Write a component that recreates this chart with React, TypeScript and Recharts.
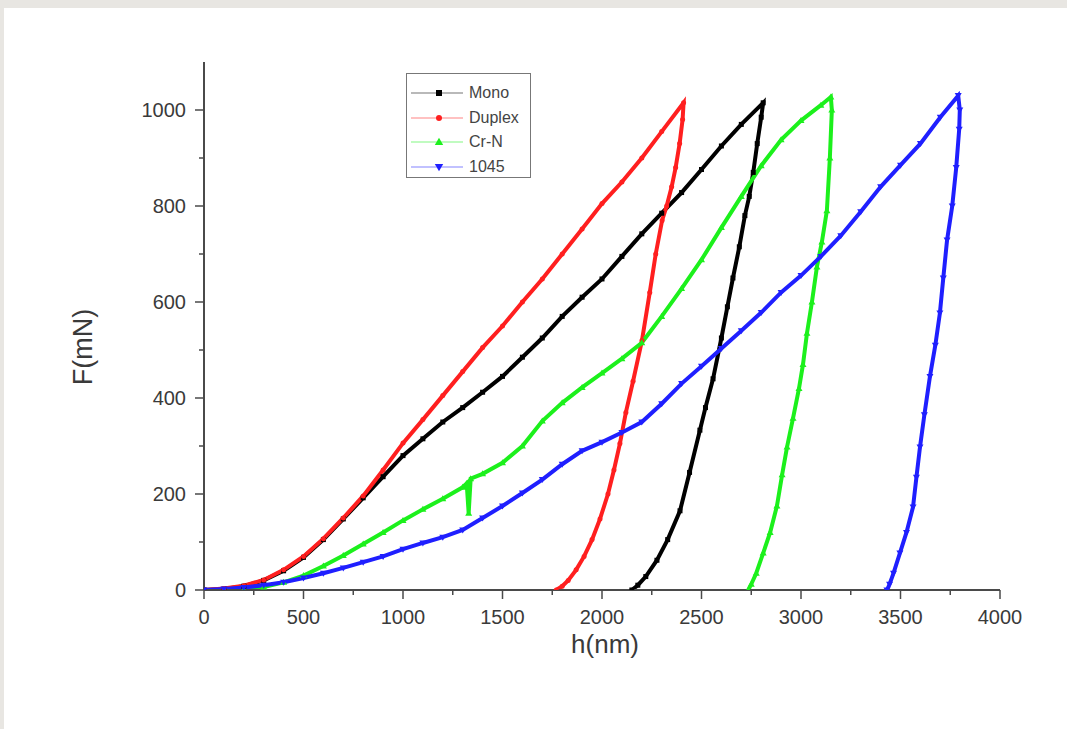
import React from 'react';
import { LineChart, Line, XAxis, YAxis } from 'recharts';

type P = { h: number; f: number };

const monoData: P[] = [
  { h: 0, f: 0 }, { h: 100, f: 2 }, { h: 200, f: 8 }, { h: 300, f: 20 }, { h: 400, f: 40 },
  { h: 500, f: 68 }, { h: 600, f: 105 }, { h: 700, f: 148 }, { h: 800, f: 192 }, { h: 900, f: 236 },
  { h: 1000, f: 280 }, { h: 1100, f: 315 }, { h: 1200, f: 350 }, { h: 1300, f: 380 }, { h: 1400, f: 412 },
  { h: 1500, f: 445 }, { h: 1600, f: 485 }, { h: 1700, f: 525 }, { h: 1800, f: 570 }, { h: 1900, f: 610 },
  { h: 2000, f: 648 }, { h: 2100, f: 695 }, { h: 2200, f: 742 }, { h: 2300, f: 785 }, { h: 2400, f: 828 },
  { h: 2500, f: 876 }, { h: 2600, f: 925 }, { h: 2700, f: 970 }, { h: 2810, f: 1015 },
  { h: 2800, f: 985 }, { h: 2780, f: 930 }, { h: 2760, f: 870 }, { h: 2740, f: 820 }, { h: 2718, f: 780 },
  { h: 2690, f: 715 }, { h: 2658, f: 650 }, { h: 2630, f: 590 }, { h: 2600, f: 525 }, { h: 2558, f: 440 },
  { h: 2520, f: 380 }, { h: 2492, f: 333 }, { h: 2440, f: 245 }, { h: 2392, f: 165 }, { h: 2330, f: 105 },
  { h: 2276, f: 62 }, { h: 2220, f: 28 }, { h: 2180, f: 10 }, { h: 2150, f: 0 },
];

const duplexData: P[] = [
  { h: 0, f: 0 }, { h: 100, f: 3 }, { h: 200, f: 9 }, { h: 300, f: 21 }, { h: 400, f: 42 },
  { h: 500, f: 70 }, { h: 600, f: 107 }, { h: 700, f: 150 }, { h: 800, f: 196 }, { h: 900, f: 250 },
  { h: 1000, f: 306 }, { h: 1100, f: 355 }, { h: 1200, f: 405 }, { h: 1300, f: 455 }, { h: 1400, f: 505 },
  { h: 1500, f: 550 }, { h: 1600, f: 600 }, { h: 1700, f: 648 }, { h: 1800, f: 700 }, { h: 1900, f: 752 },
  { h: 2000, f: 805 }, { h: 2100, f: 850 }, { h: 2200, f: 900 }, { h: 2300, f: 955 }, { h: 2410, f: 1015 },
  { h: 2405, f: 980 }, { h: 2390, f: 930 }, { h: 2370, f: 880 }, { h: 2350, f: 840 }, { h: 2325, f: 800 },
  { h: 2302, f: 770 }, { h: 2270, f: 700 }, { h: 2240, f: 620 }, { h: 2201, f: 520 }, { h: 2156, f: 435 },
  { h: 2120, f: 370 }, { h: 2090, f: 305 }, { h: 2060, f: 250 }, { h: 2030, f: 200 }, { h: 1990, f: 148 },
  { h: 1950, f: 105 }, { h: 1910, f: 70 }, { h: 1870, f: 42 }, { h: 1830, f: 20 }, { h: 1800, f: 8 },
  { h: 1770, f: 0 },
];

const crnData: P[] = [
  { h: 200, f: 0 }, { h: 300, f: 6 }, { h: 400, f: 16 }, { h: 500, f: 30 }, { h: 600, f: 50 },
  { h: 700, f: 72 }, { h: 800, f: 96 }, { h: 900, f: 120 }, { h: 1000, f: 145 }, { h: 1100, f: 168 },
  { h: 1200, f: 190 }, { h: 1300, f: 214 }, { h: 1320, f: 222 }, { h: 1330, f: 160 }, { h: 1340, f: 232 },
  { h: 1400, f: 242 }, { h: 1500, f: 265 }, { h: 1600, f: 300 }, { h: 1700, f: 352 }, { h: 1800, f: 390 },
  { h: 1900, f: 422 }, { h: 2000, f: 452 }, { h: 2100, f: 482 }, { h: 2200, f: 515 }, { h: 2300, f: 570 },
  { h: 2400, f: 628 }, { h: 2500, f: 688 }, { h: 2600, f: 755 }, { h: 2700, f: 820 }, { h: 2800, f: 884 },
  { h: 2900, f: 938 }, { h: 3000, f: 978 }, { h: 3100, f: 1010 }, { h: 3150, f: 1027 },
  { h: 3155, f: 1000 }, { h: 3145, f: 900 }, { h: 3130, f: 790 }, { h: 3105, f: 725 }, { h: 3080, f: 673 },
  { h: 3055, f: 600 }, { h: 3030, f: 535 }, { h: 3010, f: 470 }, { h: 2990, f: 420 }, { h: 2960, f: 358 },
  { h: 2930, f: 298 }, { h: 2905, f: 240 }, { h: 2879, f: 175 }, { h: 2845, f: 120 }, { h: 2810, f: 77 },
  { h: 2775, f: 35 }, { h: 2750, f: 12 }, { h: 2735, f: 0 },
];

const s1045Data: P[] = [
  { h: 0, f: 0 }, { h: 100, f: 2 }, { h: 200, f: 5 }, { h: 300, f: 10 }, { h: 400, f: 16 },
  { h: 500, f: 25 }, { h: 600, f: 35 }, { h: 700, f: 46 }, { h: 800, f: 58 }, { h: 900, f: 70 },
  { h: 1000, f: 85 }, { h: 1100, f: 98 }, { h: 1200, f: 110 }, { h: 1300, f: 125 }, { h: 1400, f: 150 },
  { h: 1500, f: 175 }, { h: 1600, f: 202 }, { h: 1700, f: 230 }, { h: 1800, f: 262 }, { h: 1900, f: 290 },
  { h: 2000, f: 308 }, { h: 2100, f: 328 }, { h: 2200, f: 350 }, { h: 2300, f: 388 }, { h: 2400, f: 430 },
  { h: 2500, f: 466 }, { h: 2600, f: 503 }, { h: 2700, f: 540 }, { h: 2800, f: 578 }, { h: 2900, f: 620 },
  { h: 3000, f: 655 }, { h: 3100, f: 695 }, { h: 3200, f: 738 }, { h: 3300, f: 788 }, { h: 3400, f: 840 },
  { h: 3500, f: 885 }, { h: 3600, f: 930 }, { h: 3700, f: 985 }, { h: 3790, f: 1030 },
  { h: 3798, f: 1000 }, { h: 3795, f: 960 }, { h: 3780, f: 880 }, { h: 3760, f: 800 }, { h: 3734, f: 729 },
  { h: 3715, f: 650 }, { h: 3698, f: 577 }, { h: 3675, f: 510 }, { h: 3648, f: 445 }, { h: 3620, f: 365 },
  { h: 3598, f: 298 }, { h: 3580, f: 235 }, { h: 3563, f: 173 }, { h: 3530, f: 120 }, { h: 3497, f: 77 },
  { h: 3465, f: 35 }, { h: 3445, f: 12 }, { h: 3432, f: 0 },
];

const xTicks = [0, 250, 500, 750, 1000, 1250, 1500, 1750, 2000, 2250, 2500, 2750, 3000, 3250, 3500, 3750, 4000];
const yTicks = [0, 100, 200, 300, 400, 500, 600, 700, 800, 900, 1000];

const seriesNames = ['Mono', 'Duplex', 'Cr-N', '1045'];
const seriesColors = ['#000000', '#ff1f1f', '#1cf01c', '#1f1fff'];
const seriesShapes = ['square', 'circle', 'up', 'down'];

const FONT = '"Liberation Sans", Arial, sans-serif';
const AXIS = '#4a4a4a';
const TEXT = '#3a3a3a';

function Marker({ cx, cy, color, shape, size = 4 }: any) {
  if (cx == null || cy == null) return null;
  const s = size;
  if (shape === 'square') return <rect x={cx - s / 2} y={cy - s / 2} width={s} height={s} fill={color} />;
  if (shape === 'circle') return <circle cx={cx} cy={cy} r={s / 2} fill={color} />;
  if (shape === 'up') return <polygon points={`${cx},${cy - s * 0.7} ${cx - s * 0.7},${cy + s * 0.5} ${cx + s * 0.7},${cy + s * 0.5}`} fill={color} />;
  return <polygon points={`${cx},${cy + s * 0.7} ${cx - s * 0.7},${cy - s * 0.5} ${cx + s * 0.7},${cy - s * 0.5}`} fill={color} />;
}

const makeDot = (i: number) => (p: any) => (
  <Marker key={`d${i}-${p.index}`} cx={p.cx} cy={p.cy} color={seriesColors[i]} shape={seriesShapes[i]} size={5} />
);

function YTick(props: any) {
  const { x, y, payload } = props;
  const major = payload.value % 200 === 0;
  return (
    <g>
      <line x1={x} x2={x - (major ? 9 : 5)} y1={y} y2={y} stroke={AXIS} strokeWidth={1.5} />
      {major && (
        <text x={x - 18} y={y} dy="0.36em" textAnchor="end" fontSize={20} fill={TEXT} fontFamily={FONT}>
          {payload.value}
        </text>
      )}
    </g>
  );
}

function XTick(props: any) {
  const { x, y, payload } = props;
  const major = payload.value % 500 === 0;
  return (
    <g>
      <line x1={x} x2={x} y1={y} y2={y + (major ? 9 : 5)} stroke={AXIS} strokeWidth={1.5} />
      {major && (
        <text x={x} y={y + 34} textAnchor="middle" fontSize={20} fill={TEXT} fontFamily={FONT}>
          {payload.value}
        </text>
      )}
    </g>
  );
}

function LegendBox() {
  return (
    <div
      style={{
        position: 'absolute',
        left: 406,
        top: 73,
        width: 125,
        height: 105,
        border: '1.5px solid #777',
        background: '#fff',
        boxSizing: 'border-box',
        paddingTop: 7,
        fontFamily: FONT,
      }}
    >
      {seriesNames.map((name, i) => (
        <div key={name} style={{ display: 'flex', alignItems: 'center', height: 24.5 }}>
          <svg width={60} height={16} style={{ display: 'block' }}>
            <line x1={4} x2={56} y1={8} y2={8} stroke={seriesColors[i]} strokeOpacity={0.55} strokeWidth={1.2} />
            <Marker cx={32} cy={8} color={seriesColors[i]} shape={seriesShapes[i]} size={6} />
          </svg>
          <span style={{ fontSize: 16, color: '#444', marginLeft: 2 }}>{name}</span>
        </div>
      ))}
    </div>
  );
}

const series = [monoData, duplexData, crnData, s1045Data];

export default function App() {
  return (
    <div style={{ position: 'absolute', left: 0, top: 0, width: 1067, height: 729, background: '#e8e6e2', overflow: 'hidden' }}>
      <div style={{ position: 'absolute', left: 4, top: 8, width: 1063, height: 721, background: '#ffffff' }} />
      <div style={{ position: 'absolute', left: 0, top: 0 }}>
        <LineChart width={1067} height={729} margin={{ top: 62, right: 67, bottom: 99, left: 124 }}>
          <XAxis
            type="number"
            dataKey="h"
            domain={[0, 4000]}
            ticks={xTicks}
            interval={0}
            tick={<XTick />}
            tickLine={false}
            tickSize={0}
            tickMargin={0}
            height={40}
            axisLine={{ stroke: AXIS, strokeWidth: 2 }}
            allowDataOverflow
            label={{
              content: () => (
                <text x={605} y={653} textAnchor="middle" fontSize={26} fill={TEXT} fontFamily={FONT}>
                  h(nm)
                </text>
              ),
            }}
          />
          <YAxis
            type="number"
            dataKey="f"
            domain={[0, 1100]}
            ticks={yTicks}
            interval={0}
            tick={<YTick />}
            tickLine={false}
            tickSize={0}
            tickMargin={0}
            width={80}
            axisLine={{ stroke: AXIS, strokeWidth: 2 }}
            allowDataOverflow
            label={{
              content: () => (
                <text
                  x={92}
                  y={347}
                  transform="rotate(-90 92 347)"
                  textAnchor="middle"
                  fontSize={27}
                  fill={TEXT}
                  fontFamily={FONT}
                >
                  F(mN)
                </text>
              ),
            }}
          />
          {series.map((d, i) => (
            <Line
              key={seriesNames[i]}
              name={seriesNames[i]}
              data={d}
              dataKey="f"
              type="linear"
              stroke={seriesColors[i]}
              strokeWidth={4}
              dot={makeDot(i)}
              activeDot={false}
              isAnimationActive={false}
            />
          ))}
        </LineChart>
      </div>
      <LegendBox />
    </div>
  );
}
